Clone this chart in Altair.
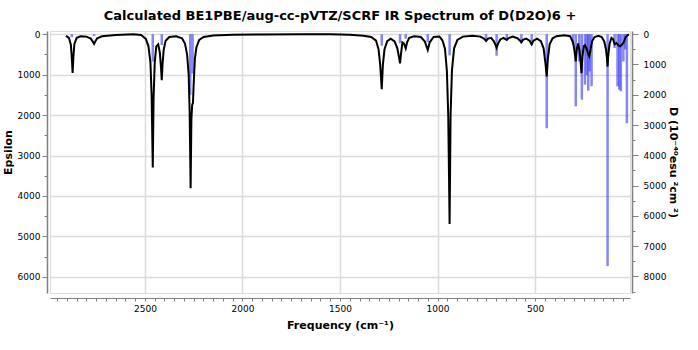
import altair as alt
import pandas as pd

# Broadened spectrum (black curve): frequency (cm-1) and epsilon
curve_freq = [2905, 2890, 2880, 2875, 2871, 2867, 2862, 2850, 2830, 2800,
              2778, 2767, 2761, 2755, 2745, 2720, 2650, 2560, 2520, 2495,
              2482, 2472, 2466, 2460, 2456, 2450, 2442, 2432, 2424, 2418,
              2414, 2410, 2404, 2394, 2375, 2340, 2310, 2295, 2284, 2276,
              2271, 2266, 2262, 2258, 2254, 2250, 2244, 2236, 2222, 2200,
              2150, 2050, 1900, 1700, 1550, 1450, 1380, 1340, 1315, 1302,
              1294, 1286, 1280, 1272, 1258, 1240, 1220, 1206, 1197, 1192,
              1187, 1180, 1172, 1163, 1156, 1145, 1120, 1085, 1065, 1050,
              1040, 1020, 990, 975, 962, 952, 945, 938, 933, 926,
              915, 898, 870, 820, 780, 762, 751, 741, 725, 712,
              703, 697, 690, 678, 662, 652, 645, 637, 615, 590,
              577, 570, 562, 545, 528, 517, 508, 490, 470, 456,
              447, 440, 434, 425, 410, 390, 350, 320, 305, 298,
              291, 285, 279, 272, 266, 262, 257, 250, 244, 236,
              228, 222, 216, 208, 195, 175, 158, 145, 136, 131,
              128, 125, 118, 108, 100, 92, 82, 72, 64, 55,
              45, 36, 25, 18]
curve_eps = [40, 90, 260, 600, 957, 560, 240, 90, 50, 60,
             110, 190, 238, 180, 100, 50, 20, 0, 20, 120,
             300, 700, 1500, 3298, 1600, 700, 300, 250, 450, 800,
             1140, 750, 380, 160, 70, 50, 100, 230, 500, 1000,
             1900, 3809, 2100, 1750, 1700, 1200, 600, 320, 140, 70,
             35, 15, 5, 0, 0, 15, 40, 70, 160, 380,
             750, 1362, 750, 380, 170, 110, 180, 350, 580, 720,
             480, 200, 230, 350, 200, 90, 50, 70, 180, 390,
             200, 70, 60, 150, 350, 900, 2000, 4692, 2000, 900,
             350, 140, 60, 40, 60, 110, 168, 110, 90, 170,
             260, 340, 240, 130, 90, 120, 143, 100, 60, 100,
             160, 200, 140, 110, 160, 250, 160, 110, 170, 350,
             700, 1045, 600, 250, 100, 50, 25, 50, 200, 400,
             670, 350, 230, 400, 700, 966, 550, 300, 270, 350,
             480, 546, 400, 180, 70, 40, 70, 180, 380, 600,
             800, 550, 250, 90, 120, 250, 220, 280, 300, 260,
             200, 80, 20, 10]

# Stick spectrum (blue): frequency (cm-1) and D (1e-40 esu^2 cm^2)
stick_freq = [2875, 2761, 2460, 2414, 2268, 2256, 1286, 1192, 1163, 1050,
              938, 751, 697, 645, 570, 517, 440, 305, 291, 273,
              260, 244, 235, 227, 220, 210, 128, 92, 77, 68,
              60, 47, 38, 29]
stick_d = [100, 60, 900, 360, 2000, 1300, 380, 300, 150, 260,
           700, 200, 710, 150, 300, 350, 3105, 345, 2380, 900,
           2160, 1665, 1350, 1865, 1230, 1720, 7657, 455, 1720, 1830,
           1885, 900, 500, 2940]

x_ticks = list(range(50, 3000, 50))
x_grid = [500, 1000, 1500, 2000, 2500]
eps_ticks = list(range(0, 6001, 500))
d_ticks = list(range(0, 8501, 500))

curve_df = pd.DataFrame({"freq": curve_freq, "eps": curve_eps})
stick_df = pd.DataFrame({"freq": stick_freq, "d": stick_d})

FONT = "DejaVu Sans"
AX = "#808080"
x_scale = alt.Scale(domain=[13, 2987], reverse=True, nice=False, zero=False)

# bottom axis: ticks + labels, offset below the plot
x_axis = alt.Axis(
    orient="bottom", values=x_ticks, format="d",
    labelExpr="datum.value % 500 === 0 ? datum.label : ''",
    grid=False, tickSize=3, tickColor=AX, domainColor=AX, offset=5,
    labelFont=FONT, labelFontSize=9, labelColor="#000", labelPadding=3,
    title="Frequency (cm⁻¹)", titleFont=FONT, titleFontSize=11,
    titleFontWeight="bold", titlePadding=6, titleColor="#000",
)
# grid-only axis so the vertical grid lines stay inside the plot
x_grid_axis = alt.Axis(
    orient="top", values=x_grid, grid=True, gridColor="#dcdcdc", gridWidth=1.5,
    domain=False, ticks=False, labels=False, title=None,
)

left_axis = alt.Axis(
    orient="left", values=eps_ticks, format="d",
    labelExpr="datum.value % 1000 === 0 ? datum.label : ''",
    grid=True, gridColor="#dcdcdc", gridWidth=1.5,
    gridOpacity={"condition": {"test": "datum.value % 1000 === 0", "value": 1}, "value": 0},
    tickSize={"condition": {"test": "datum.value % 1000 === 0", "value": 5}, "value": 3},
    tickColor=AX, domainColor=AX, domainWidth=1.5, offset=3,
    labelFont=FONT, labelFontSize=9, labelColor="#000", labelPadding=2,
    title="Epsilon", titleFont=FONT, titleFontSize=11, titleFontWeight="bold",
    titleColor="#000", titleAngle=-90, titleX=-34, titleY=121,
    titleAlign="center", titleBaseline="bottom",
)
right_axis = alt.Axis(
    orient="right", values=d_ticks, format="d",
    labelExpr="datum.value % 1000 === 0 ? datum.label : ''",
    grid=False,
    tickSize={"condition": {"test": "datum.value % 1000 === 0", "value": 6}, "value": 3},
    tickColor=AX, domainColor=AX, domainWidth=1.5, offset=2,
    labelFont=FONT, labelFontSize=9, labelColor="#000", labelPadding=5,
    title="D (10⁻⁴⁰esu ²cm ²)", titleFont=FONT, titleFontSize=11, titleFontWeight="bold",
    titleColor="#000", titleAngle=90, titleX=40, titleY=131,
    titleAlign="center", titleBaseline="middle",
)

sticks = alt.Chart(stick_df).mark_rule(color="#3535f2", opacity=0.6, strokeWidth=2.5).encode(
    x=alt.X("freq:Q", scale=x_scale, axis=x_grid_axis),
    y=alt.Y("d:Q", scale=alt.Scale(domain=[-106, 8545], reverse=True, nice=False, zero=False),
            axis=right_axis),
    y2=alt.datum(0),
)

line = alt.Chart(curve_df).mark_line(color="black", strokeWidth=2, clip=True).encode(
    x=alt.X("freq:Q", scale=x_scale, axis=x_axis),
    y=alt.Y("eps:Q", scale=alt.Scale(domain=[-79, 6398], reverse=True, nice=False, zero=False),
            axis=left_axis),
    order=alt.Order("freq:Q", sort="descending"),
)

chart = alt.layer(sticks, line).resolve_scale(y="independent").resolve_axis(
    x="independent"
).properties(
    width=580, height=262,
    title=alt.TitleParams(
        "Calculated BE1PBE/aug-cc-pVTZ/SCRF IR Spectrum of D(D2O)6 +",
        font=FONT, fontSize=13, fontWeight="bold", color="#000", anchor="middle", offset=7,
    ),
    autosize=alt.AutoSizeParams(type="none"),
    padding={"left": 50, "top": 31, "right": 68, "bottom": 57},
).configure_view(fill="#fffff3", stroke=None).configure(background="white")

chart.save("out.html", embed_options={"renderer": "svg", "actions": False})
